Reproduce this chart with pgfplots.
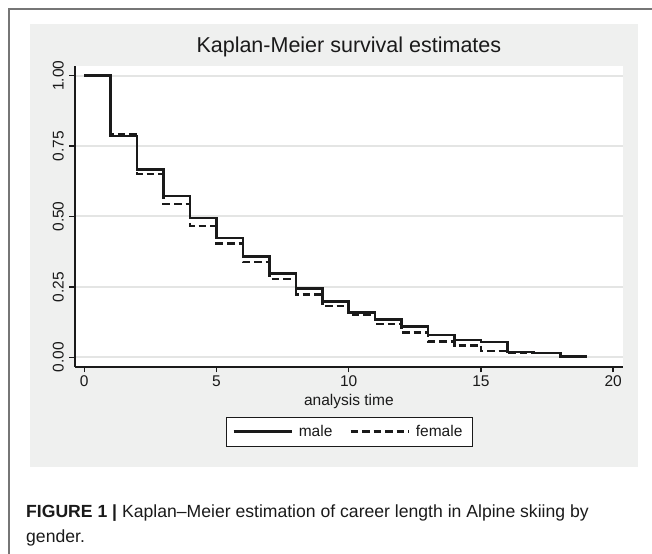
\documentclass[border=0pt]{standalone}
\usepackage{fontspec}
\setmainfont{Liberation Sans}
\usepackage{pgfplots}
\pgfplotsset{compat=1.18}
\definecolor{panelgray}{HTML}{EFF0EF}
\definecolor{gridgray}{HTML}{E4E5E4}
\definecolor{framegray}{HTML}{767676}
\definecolor{ink}{HTML}{1A1A1A}
\newcommand{\tickfont}{\fontsize{15.5bp}{18bp}\selectfont}
\pgfplotsset{
  kmline/.style={const plot, draw=ink, line width=2.5bp,
    legend image code/.code={\draw[##1] (0bp,0bp) -- (58bp,0bp);}}
}

\begin{document}
\begin{tikzpicture}
  \path[use as bounding box] (0bp,0bp) rectangle (652bp,-554bp);
  % page frame (top and left rules) and graph region
  \draw[framegray, line width=1.1bp] (652bp,-9bp) -- (9bp,-9bp) -- (9bp,-554bp);
  \fill[panelgray] (30bp,-24bp) rectangle (638bp,-467bp);

  \begin{axis}[
    at={(75bp,-366.7bp)}, anchor=south west,
    scale only axis, width=547.7bp, height=300.7bp,
    xmin=-0.35, xmax=20.36, ymin=-0.033, ymax=1.034,
    axis x line*=bottom, axis y line*=left,
    axis line style={line width=1.8bp, draw=ink, -},
    axis background/.style={fill=white},
    xtick={0,5,10,15,20}, xticklabels={0,5,10,15,20},
    ytick={0,0.25,0.5,0.75,1}, yticklabels={0.00,0.25,0.50,0.75,1.00},
    tick align=outside, major tick length=5.7bp,
    tick style={line width=1.4bp, draw=ink},
    ticklabel style={font=\tickfont, text=ink},
    yticklabel style={rotate=90, anchor=south},
    yticklabel shift=2bp,
    ymajorgrids, grid style={draw=gridgray, line width=2bp},
    title={Kaplan-Meier survival estimates},
    title style={at={(axis description cs:0.5,1.0266)}, anchor=base,
      font=\fontsize{21.5bp}{24bp}\selectfont, text=ink},
    xlabel={analysis time},
    xlabel style={at={(axis description cs:0.5,-0.1274)}, anchor=base,
      font=\tickfont, text=ink},
    legend columns=2,
    legend image post style={line width=2.5bp},
    legend style={at={(axis description cs:0.5,-0.1673)}, anchor=north,
      draw=ink, fill=white, font=\tickfont, text=ink,
      inner xsep=6.5bp, inner ysep=4bp,
      nodes={inner xsep=3bp, inner ysep=4bp},
      /tikz/every odd column/.append style={column sep=3bp},
      /tikz/every even column/.append style={column sep=14bp}},
  ]
    \addplot[kmline] coordinates {
      (0,1) (1,0.785) (2,0.667) (3,0.573) (4,0.494) (5,0.423) (6,0.358)
      (7,0.298) (8,0.245) (9,0.199) (10,0.160) (11,0.135) (12,0.109)
      (13,0.080) (14,0.062) (15,0.054) (16,0.020) (17,0.015) (18,0.003)
      (19,0.003)};
    \addlegendentry{male}
    \addplot[kmline, dash pattern=on 7.5bp off 4bp] coordinates {
      (0,1) (1,0.793) (2,0.650) (3,0.544) (4,0.467) (5,0.405) (6,0.338)
      (7,0.278) (8,0.224) (9,0.182) (10,0.153) (11,0.119) (12,0.088)
      (13,0.056) (14,0.043) (15,0.022) (16,0.016) (17,0.016)};
    \addlegendentry{female}
  \end{axis}

  \node[anchor=base west, inner sep=0pt, text=ink, font=\fontsize{17.6bp}{25bp}\selectfont]
    at (26bp,-517.7bp) {\textbf{FIGURE 1 |} Kaplan–Meier estimation of career length in Alpine skiing by};
  \node[anchor=base west, inner sep=0pt, text=ink, font=\fontsize{17.6bp}{25bp}\selectfont]
    at (26bp,-542.7bp) {gender.};
\end{tikzpicture}
\end{document}
